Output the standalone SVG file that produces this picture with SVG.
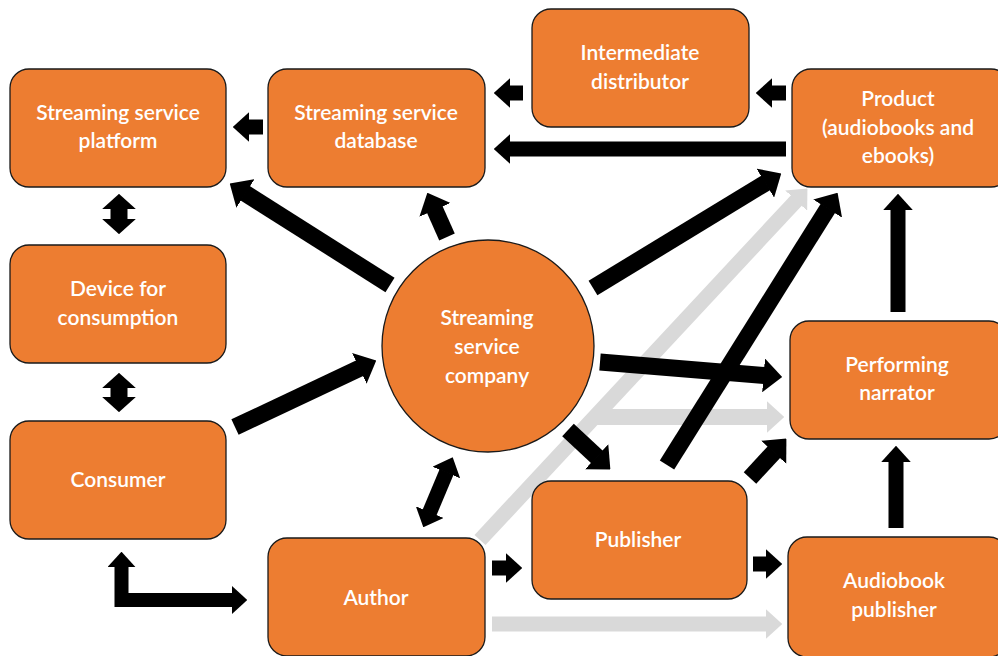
<svg xmlns="http://www.w3.org/2000/svg" width="998" height="656" viewBox="0 0 998 656">
<style>
.n{fill:#ED7D31;stroke:#1a1a1a;stroke-width:1.3}
.t{fill:#fff;font-family:Lato,"Liberation Sans",sans-serif;font-size:21px;font-weight:600;text-anchor:middle}
.b{stroke:#000;fill:none;stroke-linecap:butt;stroke-linejoin:miter}
.g{stroke:#d9d9d9;fill:none;stroke-linecap:butt}
</style>
<defs>
<marker id="hb" viewBox="0 0 1.1 2" markerWidth="1.1" markerHeight="2" refX="0.05" refY="1" orient="auto-start-reverse"><path d="M0,0 L1.1,1 L0,2 Z" fill="#000"/></marker>
<marker id="hd" viewBox="0 0 0.9 2" markerWidth="0.9" markerHeight="2" refX="0.05" refY="1" orient="auto-start-reverse"><path d="M0,0 L0.9,1 L0,2 Z" fill="#000"/></marker>
<marker id="hg" viewBox="0 0 1.1 2" markerWidth="1.1" markerHeight="2" refX="0.05" refY="1" orient="auto"><path d="M0,0 L1.1,1 L0,2 Z" fill="#d9d9d9"/></marker>
</defs>
<g id="connectors">
<line class="g" x1="480" y1="540" x2="796.7" y2="200.1" stroke-width="15" marker-end="url(#hg)"/>
<line class="g" x1="596" y1="417" x2="767.4" y2="417" stroke-width="16" marker-end="url(#hg)"/>
<line class="g" x1="492" y1="624" x2="766.5" y2="624" stroke-width="15" marker-end="url(#hg)"/>
<line class="b" x1="263" y1="127" x2="248.5" y2="127" stroke-width="15" marker-end="url(#hb)"/>
<line class="b" x1="523" y1="93" x2="509.5" y2="93" stroke-width="15" marker-end="url(#hb)"/>
<line class="b" x1="786" y1="93" x2="771.5" y2="93" stroke-width="15" marker-end="url(#hb)"/>
<line class="b" x1="786" y1="149" x2="509.5" y2="149" stroke-width="15" marker-end="url(#hb)"/>
<line class="b" x1="119" y1="208.3" x2="119" y2="219.7" stroke-width="17" marker-start="url(#hd)" marker-end="url(#hd)"/>
<line class="b" x1="119" y1="387.3" x2="119" y2="397.7" stroke-width="17" marker-start="url(#hd)" marker-end="url(#hd)"/>
<line class="b" x1="390" y1="285" x2="244.8" y2="193" stroke-width="17" marker-end="url(#hb)"/>
<line class="b" x1="235" y1="427" x2="360.1" y2="368" stroke-width="17" marker-end="url(#hb)"/>
<line class="b" x1="447" y1="237" x2="434.6" y2="209.1" stroke-width="17" marker-end="url(#hb)"/>
<line class="b" x1="593" y1="288" x2="766" y2="182.7" stroke-width="17" marker-end="url(#hb)"/>
<line class="b" x1="600" y1="362" x2="764.4" y2="375.5" stroke-width="17" marker-end="url(#hb)"/>
<line class="b" x1="568" y1="430" x2="597.3" y2="457.3" stroke-width="17" marker-end="url(#hb)"/>
<line class="b" x1="667" y1="465" x2="828.1" y2="207.9" stroke-width="17" marker-end="url(#hb)"/>
<line class="b" x1="750" y1="478" x2="774.3" y2="451.7" stroke-width="17" marker-end="url(#hb)"/>
<line class="b" x1="429.4" y1="512.8" x2="446.6" y2="471.8" stroke-width="15" marker-start="url(#hb)" marker-end="url(#hb)"/>
<path class="b" d="M121.5,566.4 V600 H232.6" stroke-width="14" marker-start="url(#hb)" marker-end="url(#hb)"/>
<line class="b" x1="492" y1="568" x2="506.5" y2="568" stroke-width="15" marker-end="url(#hb)"/>
<line class="b" x1="753" y1="564" x2="766.5" y2="564" stroke-width="15" marker-end="url(#hb)"/>
<line class="b" x1="896" y1="528" x2="896" y2="461.5" stroke-width="15" marker-end="url(#hb)"/>
<line class="b" x1="898" y1="312" x2="898" y2="209.5" stroke-width="15" marker-end="url(#hb)"/>
</g>
<g id="platform"><rect class="n" x="10" y="69" width="216" height="118" rx="19"/><text class="t" x="118" y="120">Streaming service</text><text class="t" x="118" y="148">platform</text></g>
<g id="database"><rect class="n" x="268" y="69" width="217" height="118" rx="19"/><text class="t" x="376" y="120">Streaming service</text><text class="t" x="376" y="148">database</text></g>
<g id="intermediate"><rect class="n" x="532" y="9" width="217" height="118" rx="19"/><text class="t" x="640" y="60">Intermediate</text><text class="t" x="640" y="89">distributor</text></g>
<g id="product"><rect class="n" x="792" y="69" width="218" height="118" rx="19"/><text class="t" x="898" y="106">Product</text><text class="t" x="898" y="135">(audiobooks and</text><text class="t" x="898" y="163">ebooks)</text></g>
<g id="device"><rect class="n" x="10" y="245" width="216" height="118" rx="19"/><text class="t" x="118" y="296">Device for</text><text class="t" x="118" y="325">consumption</text></g>
<g id="consumer"><rect class="n" x="10" y="421" width="216" height="118" rx="19"/><text class="t" x="118" y="487">Consumer</text></g>
<g id="company"><circle class="n" cx="488" cy="346" r="106"/><text class="t" x="487" y="325">Streaming</text><text class="t" x="487" y="354">service</text><text class="t" x="487" y="383">company</text></g>
<g id="narrator"><rect class="n" x="790" y="321" width="218" height="118" rx="19"/><text class="t" x="897" y="372">Performing</text><text class="t" x="897" y="400">narrator</text></g>
<g id="author"><rect class="n" x="268" y="538" width="217" height="118" rx="19"/><text class="t" x="376" y="605">Author</text></g>
<g id="publisher"><rect class="n" x="532" y="481" width="215" height="118" rx="19"/><text class="t" x="638" y="547">Publisher</text></g>
<g id="audiobook"><rect class="n" x="788" y="537" width="220" height="120" rx="19"/><text class="t" x="894" y="588">Audiobook</text><text class="t" x="894" y="617">publisher</text></g>
</svg>
